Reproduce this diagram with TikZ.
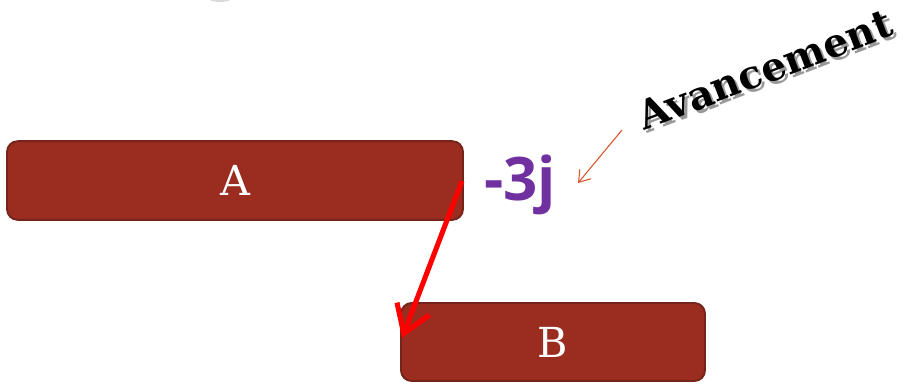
\documentclass[tikz,border=0pt]{standalone}
\usepackage{fontspec}
\usepackage{xcolor}
\usetikzlibrary{arrows.meta}
\setmainfont{DejaVu Serif}
\newfontfamily\coeffont{Open Sans}
\definecolor{boxRed}{HTML}{9A2D20}
\definecolor{boxEdge}{HTML}{74241A}
\definecolor{coefPurple}{HTML}{7030A0}
\definecolor{noteOrange}{HTML}{D9532B}
\tikzset{
  blockbox/.style={draw=boxEdge,fill=boxRed,line width=1.4pt,rounded corners=8pt,
    text=white,font=\fontsize{31}{31}\selectfont,inner sep=0pt},
  bigarrow/.style={red,line width=3.8pt,-{Straight Barb[length=20pt,width=26pt,line width=3.8pt]}},
  notearrow/.style={noteOrange,line width=0.8pt,-{Straight Barb[length=8pt,width=11pt]}}
}

\begin{document}
\begin{tikzpicture}[x=0.75pt,y=-0.75pt]
  \useasboundingbox (0,0) rectangle (905,383);
  % shadow fragment at the top edge
  \fill[black!25,opacity=0.6] (220,-6) ellipse (16 and 8);
  \node[blockbox,minimum width=342pt,minimum height=59pt] (a) at (235,180.5) {A};
  \node[blockbox,minimum width=228pt,minimum height=58.5pt] (b) at (553,342) {B};
  \node[text=coefPurple,font=\coeffont\bfseries\fontsize{45}{45}\selectfont,inner sep=0pt,anchor=base] (coef) at (520,200) {-3j};
  % label with its grey shadow
  \node[text=black!40,font=\bfseries\fontsize{29.5}{29.5}\selectfont,rotate=21,anchor=base] at (773,85.5) {Avancement};
  \node[font=\bfseries\fontsize{29.5}{29.5}\selectfont,rotate=21,anchor=base] (av) at (770,82.5) {Avancement};
  \coordinate (n0) at (622,130);
  \coordinate (n1) at (578,183);
  \draw[bigarrow] (462,181) coordinate (a0) -- (402,338) coordinate (b0);
  \draw[notearrow] (n0) -- (n1);
\end{tikzpicture}
\end{document}
